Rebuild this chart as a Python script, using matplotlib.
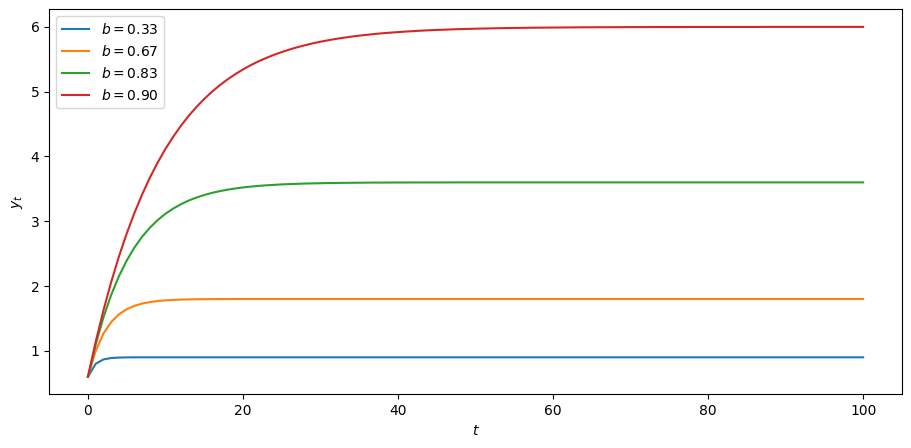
import matplotlib.pyplot as plt

# time index
t = list(range(101))

# values
y_033 = [0.600, 0.800, 0.867, 0.889, 0.896, 0.899, 0.900, 0.900, 0.900, 0.900,
         0.900, 0.900, 0.900, 0.900, 0.900, 0.900, 0.900, 0.900, 0.900, 0.900,
         0.900, 0.900, 0.900, 0.900, 0.900, 0.900, 0.900, 0.900, 0.900, 0.900,
         0.900, 0.900, 0.900, 0.900, 0.900, 0.900, 0.900, 0.900, 0.900, 0.900,
         0.900, 0.900, 0.900, 0.900, 0.900, 0.900, 0.900, 0.900, 0.900, 0.900,
         0.900, 0.900, 0.900, 0.900, 0.900, 0.900, 0.900, 0.900, 0.900, 0.900,
         0.900, 0.900, 0.900, 0.900, 0.900, 0.900, 0.900, 0.900, 0.900, 0.900,
         0.900, 0.900, 0.900, 0.900, 0.900, 0.900, 0.900, 0.900, 0.900, 0.900,
         0.900, 0.900, 0.900, 0.900, 0.900, 0.900, 0.900, 0.900, 0.900, 0.900,
         0.900, 0.900, 0.900, 0.900, 0.900, 0.900, 0.900, 0.900, 0.900, 0.900,
         0.900]

y_067 = [0.600, 1.000, 1.267, 1.444, 1.563, 1.642, 1.695, 1.730, 1.753, 1.769,
         1.779, 1.786, 1.791, 1.794, 1.796, 1.797, 1.798, 1.799, 1.799, 1.800,
         1.800, 1.800, 1.800, 1.800, 1.800, 1.800, 1.800, 1.800, 1.800, 1.800,
         1.800, 1.800, 1.800, 1.800, 1.800, 1.800, 1.800, 1.800, 1.800, 1.800,
         1.800, 1.800, 1.800, 1.800, 1.800, 1.800, 1.800, 1.800, 1.800, 1.800,
         1.800, 1.800, 1.800, 1.800, 1.800, 1.800, 1.800, 1.800, 1.800, 1.800,
         1.800, 1.800, 1.800, 1.800, 1.800, 1.800, 1.800, 1.800, 1.800, 1.800,
         1.800, 1.800, 1.800, 1.800, 1.800, 1.800, 1.800, 1.800, 1.800, 1.800,
         1.800, 1.800, 1.800, 1.800, 1.800, 1.800, 1.800, 1.800, 1.800, 1.800,
         1.800, 1.800, 1.800, 1.800, 1.800, 1.800, 1.800, 1.800, 1.800, 1.800,
         1.800]

y_083 = [0.600, 1.100, 1.517, 1.864, 2.153, 2.394, 2.595, 2.763, 2.902, 3.019,
         3.116, 3.196, 3.263, 3.320, 3.366, 3.405, 3.438, 3.465, 3.487, 3.506,
         3.522, 3.535, 3.546, 3.555, 3.562, 3.569, 3.574, 3.578, 3.582, 3.585,
         3.587, 3.590, 3.591, 3.593, 3.594, 3.595, 3.596, 3.597, 3.597, 3.598,
         3.598, 3.598, 3.599, 3.599, 3.599, 3.599, 3.599, 3.600, 3.600, 3.600,
         3.600, 3.600, 3.600, 3.600, 3.600, 3.600, 3.600, 3.600, 3.600, 3.600,
         3.600, 3.600, 3.600, 3.600, 3.600, 3.600, 3.600, 3.600, 3.600, 3.600,
         3.600, 3.600, 3.600, 3.600, 3.600, 3.600, 3.600, 3.600, 3.600, 3.600,
         3.600, 3.600, 3.600, 3.600, 3.600, 3.600, 3.600, 3.600, 3.600, 3.600,
         3.600, 3.600, 3.600, 3.600, 3.600, 3.600, 3.600, 3.600, 3.600, 3.600,
         3.600]

y_090 = [0.600, 1.140, 1.626, 2.063, 2.457, 2.811, 3.130, 3.417, 3.675, 3.908,
         4.117, 4.305, 4.475, 4.627, 4.765, 4.888, 4.999, 5.099, 5.189, 5.270,
         5.343, 5.409, 5.468, 5.521, 5.569, 5.612, 5.651, 5.686, 5.717, 5.746,
         5.771, 5.794, 5.815, 5.833, 5.850, 5.865, 5.878, 5.891, 5.902, 5.911,
         5.920, 5.928, 5.935, 5.942, 5.948, 5.953, 5.957, 5.962, 5.966, 5.969,
         5.972, 5.975, 5.977, 5.980, 5.982, 5.984, 5.985, 5.987, 5.988, 5.989,
         5.990, 5.991, 5.992, 5.993, 5.994, 5.994, 5.995, 5.995, 5.996, 5.996,
         5.997, 5.997, 5.997, 5.998, 5.998, 5.998, 5.998, 5.998, 5.999, 5.999,
         5.999, 5.999, 5.999, 5.999, 5.999, 5.999, 5.999, 6.000, 6.000, 6.000,
         6.000, 6.000, 6.000, 6.000, 6.000, 6.000, 6.000, 6.000, 6.000, 6.000,
         6.000]

labels = ['$b = 0.33$', '$b = 0.67$', '$b = 0.83$', '$b = 0.90$']
series = [y_033, y_067, y_083, y_090]

fig, ax = plt.subplots(figsize=(9.11, 4.48), dpi=100)
fig.subplots_adjust(left=0.054, right=0.990, bottom=0.12, top=0.979)

for y, lab in zip(series, labels):
    ax.plot(t, y, label=lab)

ax.set_xlabel('$t$')
ax.set_ylabel('$y_t$')
ax.legend(loc='upper left')

plt.savefig('out.png')
